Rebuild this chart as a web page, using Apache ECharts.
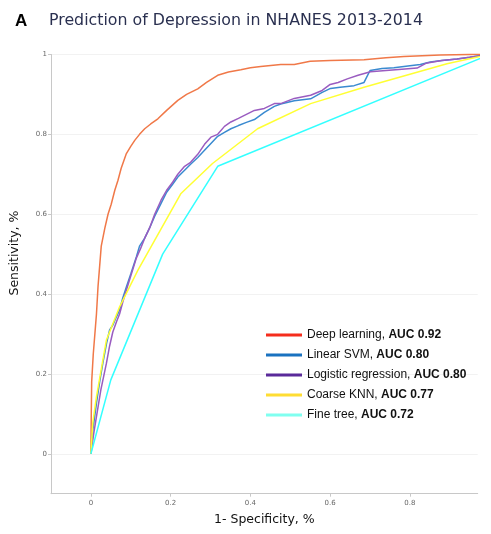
<!DOCTYPE html>
<html>
<head>
<meta charset="utf-8">
<script src="https://cdn.jsdelivr.net/npm/echarts@6/dist/echarts.min.js"></script>
<style>html,body{margin:0;padding:0;background:#fff}#c{width:491px;height:534px}</style>
</head>
<body>
<div id="c"></div>
<script>
const seriesNames = ['Deep learning', 'Linear SVM', 'Logistic regression', 'Coarse KNN', 'Fine tree'];
const aucValues = ['0.92', '0.80', '0.80', '0.77', '0.72'];
const xTickValues = [0, 0.2, 0.4, 0.6, 0.8];
const yTickValues = [0, 0.2, 0.4, 0.6, 0.8, 1];

const deepLearning = [[0,0],[0.001,0.1],[0.002,0.18],[0.006,0.25],[0.01,0.3],[0.014,0.35],[0.018,0.42],[0.022,0.47],[0.026,0.52],[0.035,0.565],[0.043,0.6],[0.051,0.625],[0.06,0.66],[0.068,0.685],[0.076,0.715],[0.089,0.752],[0.1,0.77],[0.11,0.785],[0.122,0.8],[0.135,0.814],[0.15,0.826],[0.168,0.839],[0.19,0.86],[0.218,0.885],[0.24,0.9],[0.268,0.914],[0.29,0.93],[0.318,0.948],[0.345,0.956],[0.376,0.962],[0.4,0.967],[0.426,0.97],[0.476,0.975],[0.51,0.975],[0.55,0.983],[0.6,0.985],[0.685,0.987],[0.74,0.992],[0.785,0.995],[0.876,0.999],[0.95,1],[1,1]];
const linearSVM = [[0,0],[0.005,0.06],[0.014,0.127],[0.022,0.18],[0.03,0.227],[0.04,0.28],[0.047,0.31],[0.055,0.322],[0.064,0.343],[0.072,0.36],[0.08,0.39],[0.089,0.418],[0.1,0.45],[0.114,0.493],[0.122,0.52],[0.135,0.54],[0.147,0.565],[0.16,0.595],[0.176,0.627],[0.19,0.655],[0.205,0.675],[0.218,0.693],[0.235,0.71],[0.25,0.725],[0.268,0.742],[0.285,0.76],[0.301,0.777],[0.318,0.795],[0.335,0.805],[0.351,0.814],[0.37,0.822],[0.39,0.83],[0.41,0.837],[0.435,0.855],[0.46,0.87],[0.476,0.876],[0.51,0.884],[0.551,0.889],[0.58,0.905],[0.601,0.915],[0.625,0.918],[0.66,0.922],[0.685,0.93],[0.7,0.96],[0.73,0.965],[0.76,0.967],[0.8,0.972],[0.826,0.975],[0.851,0.981],[0.88,0.985],[0.918,0.989],[0.95,0.993],[1,1]];
const logisticRegression = [[0,0],[0.007,0.05],[0.014,0.093],[0.025,0.16],[0.039,0.227],[0.047,0.27],[0.055,0.305],[0.064,0.33],[0.072,0.35],[0.08,0.38],[0.089,0.41],[0.1,0.445],[0.114,0.49],[0.125,0.515],[0.135,0.54],[0.147,0.565],[0.16,0.6],[0.176,0.635],[0.19,0.66],[0.205,0.68],[0.218,0.7],[0.235,0.72],[0.25,0.73],[0.268,0.75],[0.285,0.775],[0.301,0.793],[0.318,0.8],[0.335,0.82],[0.351,0.831],[0.37,0.84],[0.39,0.85],[0.41,0.86],[0.435,0.865],[0.46,0.877],[0.476,0.877],[0.51,0.89],[0.551,0.898],[0.58,0.91],[0.6,0.925],[0.62,0.93],[0.643,0.939],[0.67,0.948],[0.701,0.957],[0.74,0.96],[0.78,0.963],[0.818,0.966],[0.84,0.978],[0.88,0.985],[0.918,0.989],[0.95,0.993],[1,1]];
const coarseKNN = [[0,0],[0.005,0.08],[0.014,0.143],[0.039,0.285],[0.072,0.368],[0.118,0.46],[0.226,0.652],[0.305,0.727],[0.418,0.814],[0.551,0.877],[0.685,0.918],[0.893,0.977],[1,1]];
const fineTree = [[0,0],[0.05,0.185],[0.18,0.5],[0.318,0.72],[1,1]];

const seriesData = [deepLearning, linearSVM, logisticRegression, coarseKNN, fineTree];
const lineColors = ['#f07848', '#3a8ad0', '#9a5cc0', '#ffff33', '#33ffff'];
const legendColors = ['#f52d1c', '#1a72c0', '#5a2a9a', '#ffdd33', '#80fff0'];

const chart = echarts.init(document.getElementById('c'), null, {renderer: 'canvas'});
const gray = '#c8c8c8';
chart.setOption({
  animation: false,
  title: [
    {text: 'A', left: 10, top: 8, textStyle: {fontFamily: 'Liberation Sans', fontWeight: 'bold', fontSize: 17, color: '#000'}},
    {text: 'Prediction of Depression in NHANES 2013-2014', left: 44, top: 8, textStyle: {fontFamily: 'DejaVu Sans', fontWeight: 'normal', fontSize: 15.8, color: '#2a3050'}}
  ],
  grid: {left: 50, top: 54.5, right: 13.3, bottom: 40.3, containLabel: false},
  xAxis: {
    type: 'value', min: -0.1, max: 0.97, splitNumber: 5,
    name: '1- Specificity, %', nameLocation: 'middle', nameGap: 20,
    nameTextStyle: {fontFamily: 'DejaVu Sans', fontSize: 12.5, color: '#111'},
    axisLine: {onZero: false, lineStyle: {color: gray, width: 1}},
    axisTick: {show: true, length: 3, lineStyle: {color: gray}, customValues: xTickValues},
    axisLabel: {fontFamily: 'DejaVu Sans', fontSize: 7, color: '#666', margin: 6, customValues: xTickValues},
    splitLine: {show: false}
  },
  yAxis: {
    type: 'value', min: -0.1, max: 1, splitNumber: 5,
    name: 'Sensitivity, %', nameLocation: 'middle', nameGap: 30,
    nameTextStyle: {fontFamily: 'DejaVu Sans', fontSize: 12.5, color: '#111', padding: [0, 0, 0, 42]},
    axisLine: {show: true, onZero: false, lineStyle: {color: gray, width: 1}},
    axisTick: {show: true, length: 3, lineStyle: {color: gray}, customValues: yTickValues},
    axisLabel: {fontFamily: 'DejaVu Sans', fontSize: 7, color: '#666', margin: 4, customValues: yTickValues},
    splitLine: {show: true, lineStyle: {color: '#f2f2f2', width: 1}}
  },
  legend: {
    orient: 'vertical', left: 261, top: 324,
    itemWidth: 36, itemHeight: 3, itemGap: 8, icon: 'rect',
    data: seriesNames.map((n, i) => ({name: n, itemStyle: {color: legendColors[i]}})),
    formatter: name => `{n|${name}, }{b|AUC ${aucValues[seriesNames.indexOf(name)]}}`,
    textStyle: {
      rich: {
        n: {fontFamily: 'Liberation Sans', fontSize: 12, color: '#111', lineHeight: 14},
        b: {fontFamily: 'Liberation Sans', fontSize: 12, fontWeight: 'bold', color: '#111', lineHeight: 14}
      }
    }
  },
  series: seriesNames.map((n, i) => ({
    name: n, type: 'line', data: seriesData[i], showSymbol: false, symbol: 'none', clip: false,
    color: legendColors[i],
    lineStyle: {color: lineColors[i], width: 1.5}
  }))
});
</script>
</body>
</html>
